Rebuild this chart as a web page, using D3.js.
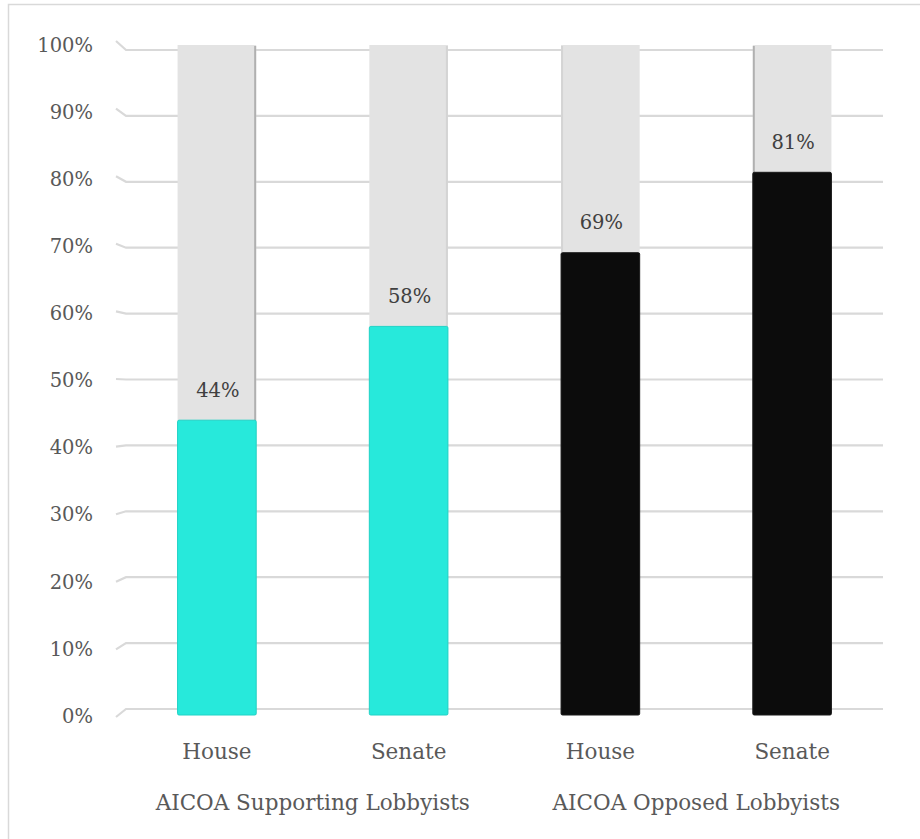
<!DOCTYPE html>
<html>
<head>
<meta charset="utf-8">
<script src="https://cdn.jsdelivr.net/npm/d3@7"></script>
<style>
  html, body { margin: 0; padding: 0; background: #fff; }
  svg { display: block; }
  text { font-family: "Palatino Linotype", "Book Antiqua", Palatino, "DejaVu Serif", serif; }
</style>
</head>
<body>
<svg id="chart" width="920" height="839"></svg>
<script>
// Share of lobbyists by chamber, grouped by stance on AICOA
const groups = ["AICOA Supporting Lobbyists", "AICOA Opposed Lobbyists"];
const chambers = ["House", "Senate"];
const groupOf = [0, 0, 1, 1];
const chamberOf = [0, 1, 0, 1];
const values = [44, 58, 69, 81];
const seriesColors = ["#27e9db", "#27e9db", "#0c0c0c", "#0c0c0c"];
const yTicks = [0, 10, 20, 30, 40, 50, 60, 70, 80, 90, 100];

const FONT = '"Palatino Linotype", "Book Antiqua", Palatino, "DejaVu Serif", serif';
const svg = d3.select("#chart");

// frame around the chart area
svg.append("rect")
  .attr("x", 8.5).attr("y", 4.5)
  .attr("width", 930).attr("height", 850)
  .attr("fill", "none").attr("stroke", "#d9d9d9").attr("stroke-width", 1.5);

const ids = d3.range(values.length);
const x = d3.scaleBand().domain(ids).range([121, 888]).paddingInner(0.59).paddingOuter(0.295);

// front plane (bars, labels) and back wall (gridlines)
const yFront = d3.scaleLinear().domain([0, 100]).range([715, 45]);
const yEdge = d3.scaleLinear().domain([0, 100]).range([717, 41]);
const yBack = d3.scaleLinear().domain([0, 100]).range([709, 50]);
const yLabel = d3.scaleLinear().domain([0, 100]).range([716, 45]);

// gridlines with the short floor-corner slant at the left
const grid = svg.append("g");
grid.selectAll("path").data(yTicks).join("path")
  .attr("d", v => `M116,${yEdge(v)}L126,${yBack(v)}L883,${yBack(v)}`)
  .attr("fill", "none").attr("stroke", "#d9d9d9").attr("stroke-width", 2.2);

// y axis labels
const yAxis = d3.axisLeft(yLabel).tickValues(yTicks).tickFormat(d => d + "%").tickSize(0).tickPadding(0);
const ya = svg.append("g").attr("transform", "translate(93,0)").call(yAxis);
ya.select(".domain").remove();
ya.selectAll("text").attr("font-size", 19.5).attr("fill", "#595959")
  .style("font-family", FONT);

// background (100%) bars
const bg = svg.append("g");
bg.selectAll("rect").data(ids).join("rect")
  .attr("x", i => x(i)).attr("y", yFront(100))
  .attr("width", x.bandwidth()).attr("height", yFront(0) - yFront(100))
  .attr("fill", "#e3e3e3");
// shaded side edges of the background bars
bg.selectAll("line").data(ids).join("line")
  .attr("x1", i => i < 2 ? x(i) + x.bandwidth() - 1 : x(i) + 1)
  .attr("x2", i => i < 2 ? x(i) + x.bandwidth() - 1 : x(i) + 1)
  .attr("y1", yFront(100) + 1).attr("y2", yFront(0))
  .attr("stroke", i => i === 1 || i === 2 ? "#d4d4d4" : "#b0b0b0").attr("stroke-width", 2);

// value bars
svg.append("g").selectAll("rect").data(ids).join("rect")
  .attr("x", i => x(i)).attr("y", i => yFront(values[i]))
  .attr("width", x.bandwidth()).attr("height", i => yFront(0) - yFront(values[i]))
  .attr("rx", 1.5)
  .attr("fill", i => seriesColors[i])
  .attr("stroke", i => groupOf[i] === 0 ? "#20d3c6" : "#1a1a1a").attr("stroke-width", 1);

// value labels
svg.append("g").selectAll("text").data(ids).join("text")
  .attr("x", i => x(i) + x.bandwidth() / 2 + 1)
  .attr("y", i => yFront(values[i]) - 30)
  .attr("text-anchor", "middle").attr("dominant-baseline", "central")
  .attr("font-size", 19.5).attr("fill", "#404040")
  .text(i => values[i] + "%");

// chamber labels
svg.append("g").selectAll("text").data(ids).join("text")
  .attr("x", i => x(i) + x.bandwidth() / 2)
  .attr("y", 751).attr("text-anchor", "middle").attr("dominant-baseline", "central")
  .attr("font-size", 21.5).attr("fill", "#595959")
  .text(i => chambers[chamberOf[i]]);

// group labels
svg.append("g").selectAll("text").data(groups).join("text")
  .attr("x", (g, gi) => {
    const members = ids.filter(i => groupOf[i] === gi);
    return (x(members[0]) + x(members[members.length - 1]) + x.bandwidth()) / 2;
  })
  .attr("y", 802).attr("text-anchor", "middle").attr("dominant-baseline", "central")
  .attr("font-size", 21.5).attr("fill", "#595959")
  .text(g => g);
</script>
</body>
</html>
